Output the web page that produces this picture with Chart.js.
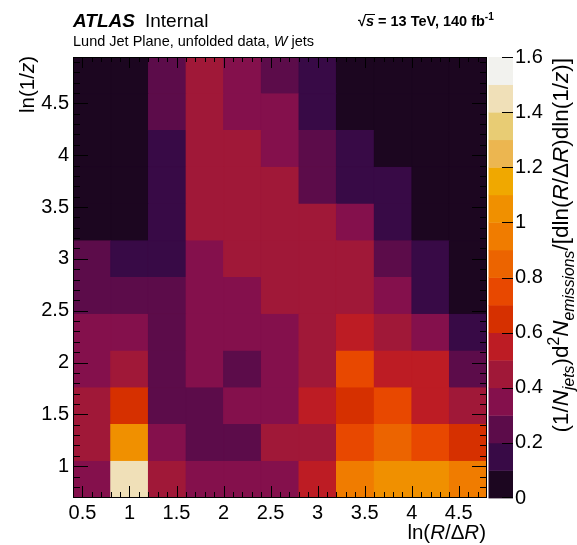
<!DOCTYPE html>
<html><head><meta charset="utf-8">
<script src="https://cdn.jsdelivr.net/npm/chart.js@4.4.1/dist/chart.umd.min.js"></script>
<style>html,body{margin:0;padding:0;background:#fff}canvas{display:block}</style>
</head><body>
<canvas id="c" width="577" height="545"></canvas>
<script>
// ---- bin edges (ln(R/dR) columns, ln(1/z) rows) ----
const xEdges = [0.4, 0.8, 1.2, 1.6, 2.0, 2.4, 2.8, 3.2, 3.6, 4.0, 4.4, 4.8];
const yEdges = [0.693, 1.048, 1.402, 1.757, 2.111, 2.466, 2.820, 3.175, 3.529, 3.884, 4.238, 4.593, 4.947];
// ---- tick labels ----
const xTickValues = [0.5, 1, 1.5, 2, 2.5, 3, 3.5, 4, 4.5];
const yTickValues = [1, 1.5, 2, 2.5, 3, 3.5, 4, 4.5];
const zTickValues = [0, 0.2, 0.4, 0.6, 0.8, 1, 1.2, 1.4, 1.6];
// ---- density per ln(1/z) row, bottom (row01) to top (row12), one value per ln(R/dR) column ----
const row01 = [0.35, 1.45, 0.45, 0.35, 0.35, 0.35, 0.55, 0.95, 1.05, 1.05, 0.95];
const row02 = [0.45, 1.05, 0.35, 0.25, 0.25, 0.45, 0.45, 0.75, 0.85, 0.75, 0.65];
const row03 = [0.45, 0.65, 0.25, 0.25, 0.35, 0.35, 0.55, 0.65, 0.75, 0.55, 0.45];
const row04 = [0.35, 0.45, 0.25, 0.35, 0.25, 0.35, 0.45, 0.75, 0.55, 0.55, 0.25];
const row05 = [0.35, 0.35, 0.25, 0.35, 0.35, 0.35, 0.45, 0.55, 0.45, 0.35, 0.15];
const row06 = [0.25, 0.25, 0.25, 0.35, 0.35, 0.45, 0.45, 0.45, 0.35, 0.15, 0.05];
const row07 = [0.25, 0.15, 0.15, 0.35, 0.45, 0.45, 0.45, 0.45, 0.25, 0.15, 0.05];
const row08 = [0.05, 0.05, 0.15, 0.45, 0.45, 0.45, 0.45, 0.35, 0.15, 0.05, 0.05];
const row09 = [0.05, 0.05, 0.15, 0.45, 0.45, 0.45, 0.25, 0.15, 0.15, 0.05, 0.05];
const row10 = [0.05, 0.05, 0.15, 0.45, 0.45, 0.35, 0.25, 0.15, 0.05, 0.05, 0.05];
const row11 = [0.05, 0.05, 0.25, 0.45, 0.35, 0.35, 0.15, 0.05, 0.05, 0.05, 0.05];
const row12 = [0.05, 0.05, 0.25, 0.45, 0.35, 0.25, 0.15, 0.05, 0.05, 0.05, 0.05];
const rows = [row01, row02, row03, row04, row05, row06, row07, row08, row09, row10, row11, row12];

// ---- colour scale (16 discrete bands of 0.1) ----
const zMax = 1.6, zBand = 0.1;
const palette = ['#1c0620','#380a46','#5c0c4a','#84104c','#a01838','#bd1c24','#d63000','#e84800',
                 '#ec6400','#f07c00','#f09000','#f0a800','#ecb650','#e8cc74','#f0e0b8','#f2f2ee'];
function colourOf(v) {
  let k = Math.floor(v / zBand + 1e-9);
  if (k < 0) k = 0; if (k > palette.length - 1) k = palette.length - 1;
  return palette[k];
}

const FONT = "'Liberation Sans', Arial, Helvetica, sans-serif";
function fontStr(size, bold, italic) {
  return (italic ? 'italic ' : '') + (bold ? 'bold ' : '') + size + 'px ' + FONT;
}
function drawRich(ctx, segs, x, y, size, alignEnd) {
  let total = 0;
  const parts = segs.map(s => {
    const sz = (s.sub || s.sup) ? size * 0.7 : size;
    const f = fontStr(sz, s.b, s.i);
    ctx.font = f;
    const w = ctx.measureText(s.t).width;
    total += w;
    return { s, f, w, dy: s.sub ? size * 0.28 : (s.sup ? -size * 0.42 : 0) };
  });
  let cx = alignEnd ? x - total : x;
  const pos = [];
  for (const p of parts) {
    ctx.font = p.f;
    ctx.fillText(p.s.t, cx, y + p.dy);
    pos.push({ x: cx, w: p.w });
    cx += p.w;
  }
  return pos;
}

Chart.defaults.font.family = FONT;
Chart.defaults.font.size = 20;
Chart.defaults.color = '#000';

const datasets = rows.map((vals, r) => ({
  xAxisID: 'x', yAxisID: 'y',
  data: vals.map((v, c) => ({ x: (xEdges[c] + xEdges[c + 1]) / 2, y: [yEdges[r], yEdges[r + 1]], v: v })),
  backgroundColor: ctx => colourOf(ctx.raw ? ctx.raw.v : 0),
  borderColor: ctx => colourOf(ctx.raw ? ctx.raw.v : 0),
  borderWidth: 1,
  borderSkipped: false,
  inflateAmount: 0.5,
  grouped: false,
  barPercentage: 1,
  categoryPercentage: 1
}));

const TW = 1; // tick / frame width
const decor = {
  id: 'decor',
  afterDraw(chart) {
    const ctx = chart.ctx, a = chart.chartArea;
    const xs = chart.scales.x, ys = chart.scales.y, cb = chart.scales.cb;
    ctx.save();
    ctx.setLineDash([]); ctx.globalAlpha = 1; ctx.globalCompositeOperation = 'source-over';
    // colour bar
    const cbL = cb.left + 1.5, cbW = 24.5;
    for (let k = 0; k < palette.length; k++) {
      const y1 = cb.getPixelForValue(k * zBand), y2 = cb.getPixelForValue((k + 1) * zBand);
      ctx.fillStyle = palette[k];
      ctx.fillRect(cbL, y2, cbW, y1 - y2 + 0.4);
    }
    ctx.fillStyle = 'rgb(0,0,0)';
    zTickValues.forEach(v => {
      const py = Math.round(cb.getPixelForValue(v));
      ctx.fillRect(Math.round(cbL + cbW) - 11, Math.min(py, Math.round(a.bottom) - TW), 11, TW);
    });
    // frame
    const L = Math.round(a.left), R = Math.round(a.right), T = Math.round(a.top), B = Math.round(a.bottom);
    ctx.fillRect(L, T, R - L, TW);
    ctx.fillRect(L, B - TW, R - L, TW);
    ctx.fillRect(L, T, TW, B - T);
    ctx.fillRect(R - TW, T, TW, B - T);
    // inner ticks
    for (let i = 5; i < 48; i++) {
      const px = Math.round(xs.getPixelForValue(i / 10));
      const major = i % 5 === 0;
      const lb = major ? 12 : 6, lt = major ? 11 : 5;
      ctx.fillRect(px, B - lb, TW, lb);
      ctx.fillRect(px, T, TW, lt);
    }
    for (let i = 7; i < 50; i++) {
      const py = Math.round(ys.getPixelForValue(i / 10));
      const major = i % 5 === 0;
      const len = major ? 15 : 7;
      ctx.fillRect(L, py, len, TW);
      ctx.fillRect(R - len, py, len, TW);
    }

    ctx.fillStyle = '#000';
    ctx.textAlign = 'left'; ctx.textBaseline = 'alphabetic';
    // header
    drawRich(ctx, [{ t: 'ATLAS', b: 1, i: 1 }], 73, 27, 19);
    drawRich(ctx, [{ t: 'Internal' }], 145, 27, 19);
    drawRich(ctx, [{ t: 'Lund Jet Plane, unfolded data, ' }, { t: 'W', i: 1 }, { t: ' jets' }], 73, 46, 14.5);
    const p = drawRich(ctx, [{ t: '\u221A', b: 1 }, { t: 's', b: 1, i: 1 }, { t: ' = 13 TeV, 140 fb', b: 1 }, { t: '-1', b: 1, sup: 1 }], 358, 26, 14.5);
    ctx.fillRect(Math.round(p[1].x) - 1, 14, Math.round(p[1].w) + 2, 1);
    // x title
    drawRich(ctx, [{ t: 'ln(' }, { t: 'R', i: 1 }, { t: '/\u0394' }, { t: 'R', i: 1 }, { t: ')' }], 486, 539, 20.5, true);
    // y title
    ctx.save(); ctx.translate(34, 56); ctx.rotate(-Math.PI / 2);
    drawRich(ctx, [{ t: 'ln(1/' }, { t: 'z', i: 1 }, { t: ')' }], 0, 0, 20.5, true);
    ctx.restore();
    // z title
    ctx.save(); ctx.translate(568, 58); ctx.rotate(-Math.PI / 2);
    drawRich(ctx, [{ t: '(1/' }, { t: 'N', i: 1 }, { t: 'jets', i: 1, sub: 1 }, { t: ')d' }, { t: '2', sup: 1 },
                   { t: 'N', i: 1 }, { t: 'emissions', i: 1, sub: 1 }, { t: '/[dln(' }, { t: 'R', i: 1 },
                   { t: '/\u0394' }, { t: 'R', i: 1 }, { t: ')dln(1/' }, { t: 'z', i: 1 }, { t: ')]' }], 0, 0, 22.5, true);
    ctx.restore();
    ctx.restore();
  }
};

new Chart(document.getElementById('c'), {
  type: 'bar',
  data: { datasets },
  plugins: [decor],
  options: {
    responsive: false, devicePixelRatio: 1, animation: false,
    layout: { padding: { top: 57, left: 0, right: 0, bottom: 0 } },
    plugins: { legend: { display: false }, tooltip: { enabled: false }, title: { display: false } },
    scales: {
      x: {
        type: 'linear', axis: 'x', position: 'bottom', min: xEdges[0], max: xEdges[xEdges.length - 1],
        offset: false, grid: { display: false, drawTicks: false, offset: false }, border: { display: false },
        afterBuildTicks: s => { s.ticks = xTickValues.map(v => ({ value: v })); },
        afterFit: s => { s.height = 47; },
        ticks: { autoSkip: false, maxRotation: 0, padding: 3, callback: v => String(v) }
      },
      y: {
        type: 'linear', axis: 'y', position: 'left', min: yEdges[0], max: yEdges[yEdges.length - 1],
        grid: { display: false, drawTicks: false }, border: { display: false },
        afterBuildTicks: s => { s.ticks = yTickValues.map(v => ({ value: v })); },
        afterFit: s => { s.width = 73; },
        ticks: { autoSkip: false, padding: 4, callback: v => String(v) }
      },
      cb: {
        type: 'linear', axis: 'y', position: 'right', min: 0, max: zMax,
        grid: { display: true, drawOnChartArea: false, drawTicks: true, tickLength: 25, color: 'rgba(0,0,0,0)' },
        border: { display: false },
        afterBuildTicks: s => { s.ticks = zTickValues.map(v => ({ value: v })); },
        afterFit: s => { s.width = 90; },
        ticks: { autoSkip: false, padding: 3, callback: v => String(v) }
      }
    }
  }
});
</script>
</body></html>
